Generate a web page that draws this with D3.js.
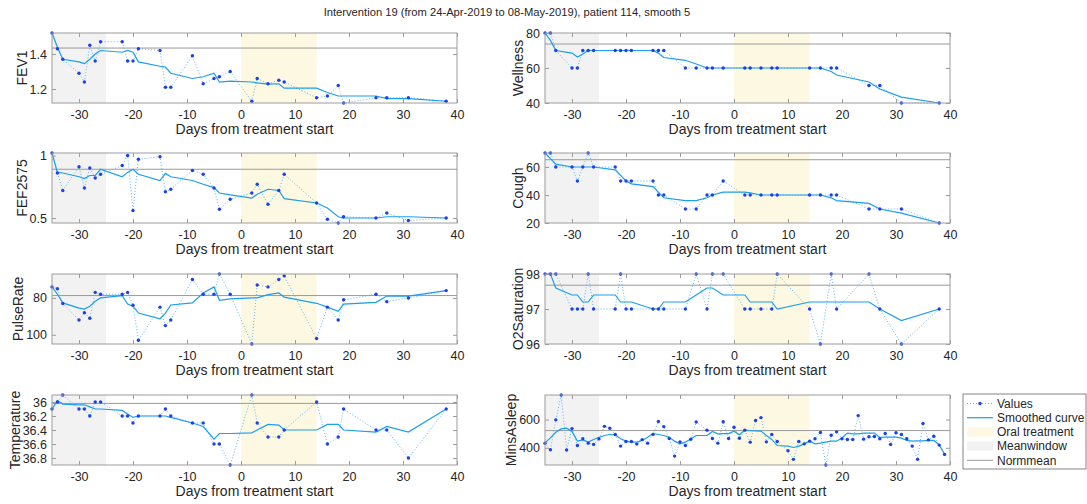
<!DOCTYPE html>
<html lang="en">
<head>
<meta charset="UTF-8">
<title>Intervention 19</title>
<script src="https://d3js.org/d3.v7.min.js"></script>
<style>
  body { margin: 0; background: #fff; }
  svg text { font-family: "Liberation Sans", Arial, Helvetica, sans-serif; fill: #262626; }
</style>
</head>
<body>
<div id="chart"></div>
<script>
// ---- data ----
var titleText = "Intervention 19 (from 24-Apr-2019 to 08-May-2019), patient 114, smooth 5";
var xLabel = "Days from treatment start";
var xTicks = [-30, -20, -10, 0, 10, 20, 30, 40];
var meanWindow = [-35, -25];
var oralTreatment = [0, 14];

// days that have a measurement (all measures except sleep)
var days = [-35,-34,-33,-30,-29,-28,-27,-26,-22,-21,-20,-19,-15,-14,-13,-9,-7,-5,-4,-2,2,3,5,7,8,14,16,18,19,25,27,31,38];

var fev1 = [1.52,1.43,1.37,1.29,1.24,1.45,1.36,1.47,1.47,1.36,1.36,1.43,1.42,1.21,1.21,1.39,1.23,1.26,1.27,1.30,1.13,1.26,1.23,1.25,1.24,1.15,1.16,1.22,1.12,1.15,1.15,1.15,1.13];
var fev1Smooth = [1.52,1.44,1.37,1.355,1.345,1.37,1.40,1.42,1.41,1.42,1.41,1.355,1.33,1.325,1.29,1.26,1.27,1.29,1.24,1.245,1.24,1.235,1.228,1.23,1.205,1.205,1.18,1.16,1.16,1.16,1.145,1.145,1.13];

var wellness = [80,80,70,60,60,70,70,70,70,70,70,70,70,70,70,60,60,60,60,60,60,60,60,60,60,60,60,60,60,50,50,40,40];
var wellnessSmooth = [80,75.8,70,68.5,66.3,68,70,70,70,70,70,70,70,68.5,66,64.4,62.3,60,60,60,60,60,60,60,60,60,60,58,56,52,48,43.4,40];

var fef2575 = [1.02,0.86,0.72,0.91,0.74,0.90,0.82,0.85,0.92,1.00,0.56,0.97,0.99,0.71,0.73,0.88,0.85,0.74,0.57,0.65,0.70,0.77,0.61,0.72,0.85,0.62,0.49,0.46,0.51,0.50,0.54,0.48,0.50];
var fef2575Smooth = [1.02,0.865,0.86,0.83,0.816,0.84,0.84,0.89,0.83,0.865,0.89,0.85,0.80,0.857,0.83,0.80,0.77,0.743,0.70,0.685,0.66,0.69,0.73,0.72,0.655,0.62,0.58,0.51,0.50,0.50,0.51,0.51,0.50];

var cough = [70,70,60,60,50,60,70,60,60,50,50,50,50,40,40,30,30,40,40,50,40,40,40,40,40,40,40,40,40,30,30,30,20];
var coughSmooth = [70,66,62,60,60,60,60,60,58,54,50,48,46,42,38,36,36,38,40,42,42,41.5,40,40,40,40,40,38,36,34,30,27,20];

var pulseRate = [74,75,83,92,88,91,77,78,78,77,84,103,85,95,92,70,78,78,67,78,105,73,74,70,68,102,85,92,81,78,82,80,76];
var pulseRateSmooth = [74,78,82.7,85.5,86,84.5,81.8,80,78.7,83.3,84.5,88.2,91.3,88.2,83.8,82.7,77.3,74,81.3,80.5,80,80,78.2,77.3,79.6,82.9,85,87.3,83.3,82.4,79,79,76];

var o2Saturation = [98,98,98,97,97,97,98,97,97,98,97,97,97,97,97,97,98,97,98,98,97,97,97,97,98,97,96,98,97,98,97,96,97];
var o2SaturationSmooth = [98,98,97.6,97.4,97.4,97.2,97.2,97.4,97.4,97.2,97.2,97.2,97,97,97.2,97.2,97.4,97.6,97.6,97.4,97.4,97.2,97.2,97.2,97,97.2,97.2,97.2,97.2,97.2,97,96.67,97];

var temperature = [36.1,36.0,35.9,36.1,36.1,36.2,36.0,36.0,36.2,36.2,36.3,36.2,36.2,36.1,36.2,36.3,36.3,36.6,36.6,36.9,35.9,36.3,36.5,36.5,36.4,36.0,36.6,36.5,36.1,36.4,36.4,36.8,36.1];
var temperatureSmooth = [36.1,35.98,36.03,36.04,36.04,36.07,36.1,36.1,36.12,36.17,36.22,36.2,36.2,36.2,36.22,36.3,36.35,36.53,36.45,36.45,36.44,36.4,36.32,36.33,36.4,36.4,36.32,36.32,36.4,36.43,36.35,36.43,36.1];

// sleep is recorded (almost) every day
var sleepDays = [-35,-34,-33,-32,-31,-30,-29,-28,-27,-26,-25,-24,-23,-22,-21,-20,-19,-18,-17,-16,-15,-14,-13,-12,-11,-10,-9,-8,-7,-5,-4,-3,-2,-1,0,1,2,3,4,5,6,7,8,10,11,12,13,14,15,16,17,18,19,20,21,22,23,24,25,26,27,28,29,30,31,32,33,34,35,36,37,38,39];
var minsAsleep = [432,386,598,774,384,536,416,464,433,424,463,552,538,494,412,445,445,426,458,433,495,586,550,466,341,442,416,460,583,525,466,433,584,466,546,468,525,440,593,614,442,494,445,379,318,445,428,447,464,508,278,489,513,464,459,459,628,461,478,480,464,501,424,506,494,464,412,318,572,456,482,419,353];
var minsAsleepSmooth = [435,470,510,534,539,515,447,456,440,459,475,487,494,492,464,447,440,440,452,475,501,494,487,475,447,428,440,464,487,487,515,499,501,501,518,492,525,522,520,518,487,459,416,412,402,412,428,447,428,433,440,447,447,470,504,499,499,504,504,504,473,475,475,475,468,452,447,449,449,452,452,421,353];

// per-panel settings
var measureNames = ["FEV1", "Wellness", "FEF2575", "Cough", "PulseRate", "O2Saturation", "Temperature", "MinsAsleep"];
var normMeans = [1.434, 73.7, 0.89, 65.2, 78.7, 97.68, 36.02, 522];
var yTicks = [[1.2, 1.4], [40, 60, 80], [0.5, 1], [20, 40, 60], [80, 100], [96, 97, 98], [36, 36.2, 36.4, 36.6, 36.8], [400, 600]];
var yReversed = [false, false, false, false, true, false, true, false];

var panels = [
    { x: days, v: fev1, s: fev1Smooth },
    { x: days, v: wellness, s: wellnessSmooth },
    { x: days, v: fef2575, s: fef2575Smooth },
    { x: days, v: cough, s: coughSmooth },
    { x: days, v: pulseRate, s: pulseRateSmooth },
    { x: days, v: o2Saturation, s: o2SaturationSmooth },
    { x: days, v: temperature, s: temperatureSmooth },
    { x: sleepDays, v: minsAsleep, s: minsAsleepSmooth }
];

// ---- layout ----
var width = 1087, height = 504;
var colX0 = [52, 545], colX1 = [457, 950];
var rowY0 = [33, 153, 274, 395];
var plotH = 70;

var colors = {
    dots: "#1d3fe6",
    valueLine: "#5ab7f4",
    smooth: "#1b9ef0",
    meanWindow: "#f2f2f2",
    oral: "#fdf8e1",
    normMean: "#9a9a9a",
    box: "#9c9c9c"
};

var svg = d3.select("#chart")
    .append("svg")
    .attr("width", width)
    .attr("height", height);

// figure title
svg.append("text")
    .attr("x", 507)
    .attr("y", 16)
    .attr("text-anchor", "middle")
    .style("font-size", "11.2px")
    .text(titleText);

panels.forEach(function (p, i) {
    var col = i % 2, row = Math.floor(i / 2);
    var x0 = colX0[col], x1 = colX1[col];
    var top = rowY0[row], bottom = top + plotH;

    var x = d3.scaleLinear().domain([-35, 40]).range([x0, x1]);
    var ext = d3.extent(p.v);
    var y = d3.scaleLinear()
        .domain(ext)
        .range(yReversed[i] ? [top, bottom] : [bottom, top]);

    var g = svg.append("g");

    // shaded windows
    g.append("rect")
        .attr("x", x(meanWindow[0])).attr("y", top)
        .attr("width", x(meanWindow[1]) - x(meanWindow[0])).attr("height", plotH)
        .attr("fill", colors.meanWindow);
    g.append("rect")
        .attr("x", x(oralTreatment[0])).attr("y", top)
        .attr("width", x(oralTreatment[1]) - x(oralTreatment[0])).attr("height", plotH)
        .attr("fill", colors.oral);

    // norm mean
    g.append("line")
        .attr("x1", x0).attr("x2", x1)
        .attr("y1", y(normMeans[i])).attr("y2", y(normMeans[i]))
        .attr("stroke", colors.normMean).attr("stroke-width", 1);

    var pts = p.x.map(function (d, k) { return [d, p.v[k], p.s[k]]; });

    // values (dotted)
    g.append("path")
        .datum(pts)
        .attr("fill", "none")
        .attr("stroke", colors.valueLine)
        .attr("stroke-width", 1)
        .attr("stroke-dasharray", "1,2")
        .attr("d", d3.line().x(function (d) { return x(d[0]); }).y(function (d) { return y(d[1]); }));

    // smoothed curve
    g.append("path")
        .datum(pts)
        .attr("fill", "none")
        .attr("stroke", colors.smooth)
        .attr("stroke-width", 1.2)
        .attr("d", d3.line().x(function (d) { return x(d[0]); }).y(function (d) { return y(d[2]); }));

    g.selectAll("circle")
        .data(pts)
        .enter()
        .append("circle")
        .attr("cx", function (d) { return x(d[0]); })
        .attr("cy", function (d) { return y(d[1]); })
        .attr("r", 1.7)
        .attr("fill", colors.dots);

    // axes (ticks point inwards, matlab style)
    g.append("g")
        .attr("transform", "translate(0," + bottom + ")")
        .call(d3.axisBottom(x).tickValues(xTicks).tickSizeInner(-4).tickSizeOuter(0).tickPadding(7)
            .tickFormat(function (d) { return d < 0 ? "-" + Math.abs(d) : d; }));
    g.append("g")
        .attr("transform", "translate(0," + top + ")")
        .call(d3.axisTop(x).tickValues(xTicks).tickSizeInner(-4).tickSizeOuter(0).tickFormat(""));
    var ya = g.append("g")
        .attr("transform", "translate(" + x0 + ",0)")
        .call(d3.axisLeft(y).tickValues(yTicks[i]).tickSizeInner(-4).tickSizeOuter(0).tickPadding(5)
            .tickFormat(d3.format("~g")));
    g.append("g")
        .attr("transform", "translate(" + x1 + ",0)")
        .call(d3.axisRight(y).tickValues(yTicks[i]).tickSizeInner(-4).tickSizeOuter(0).tickFormat(""));

    g.selectAll(".domain").remove();
    g.selectAll(".tick line").attr("stroke", colors.box);
    g.selectAll(".tick text").style("font-size", "12.5px").attr("fill", "#262626");

    // box
    g.append("rect")
        .attr("x", x0).attr("y", top)
        .attr("width", x1 - x0).attr("height", plotH)
        .attr("fill", "none")
        .attr("stroke", colors.box)
        .attr("stroke-width", 1);

    // labels
    g.append("text")
        .attr("x", (x0 + x1) / 2)
        .attr("y", bottom + 31)
        .attr("text-anchor", "middle")
        .style("font-size", "14px")
        .text(xLabel);

    var bb = ya.node().getBBox();
    var lx = x0 + bb.x - 3;
    g.append("text")
        .attr("transform", "translate(" + lx + "," + (top + plotH / 2) + ") rotate(-90)")
        .attr("text-anchor", "middle")
        .style("font-size", "14px")
        .text(measureNames[i]);
});

// ---- legend ----
var legend = svg.append("g");
var lgX = 963, lgY = 394;
legend.append("rect")
    .attr("x", lgX).attr("y", lgY)
    .attr("width", 123).attr("height", 75)
    .attr("fill", "#fff")
    .attr("stroke", "#666")
    .attr("stroke-width", 0.8);

var legendItems = ["Values", "Smoothed curve", "Oral treatment", "Meanwindow", "Normmean"];
legendItems.forEach(function (name, k) {
    var cy = lgY + 9.5 + k * 14.2;
    var sx0 = lgX + 4, sx1 = lgX + 30;
    if (k === 0) {
        legend.append("line").attr("x1", sx0).attr("x2", sx1).attr("y1", cy).attr("y2", cy)
            .attr("stroke", colors.valueLine).attr("stroke-dasharray", "1,2");
        legend.append("circle").attr("cx", (sx0 + sx1) / 2).attr("cy", cy).attr("r", 1.7).attr("fill", colors.dots);
    } else if (k === 1) {
        legend.append("line").attr("x1", sx0).attr("x2", sx1).attr("y1", cy).attr("y2", cy)
            .attr("stroke", colors.smooth).attr("stroke-width", 1.2);
    } else if (k === 2 || k === 3) {
        legend.append("rect").attr("x", sx0).attr("y", cy - 4.5).attr("width", sx1 - sx0).attr("height", 9)
            .attr("fill", k === 2 ? colors.oral : colors.meanWindow);
    } else {
        legend.append("line").attr("x1", sx0).attr("x2", sx1).attr("y1", cy).attr("y2", cy)
            .attr("stroke", colors.normMean);
    }
    legend.append("text")
        .attr("x", lgX + 34)
        .attr("y", cy + 4.3)
        .style("font-size", "12px")
        .text(name);
});
</script>
</body>
</html>
